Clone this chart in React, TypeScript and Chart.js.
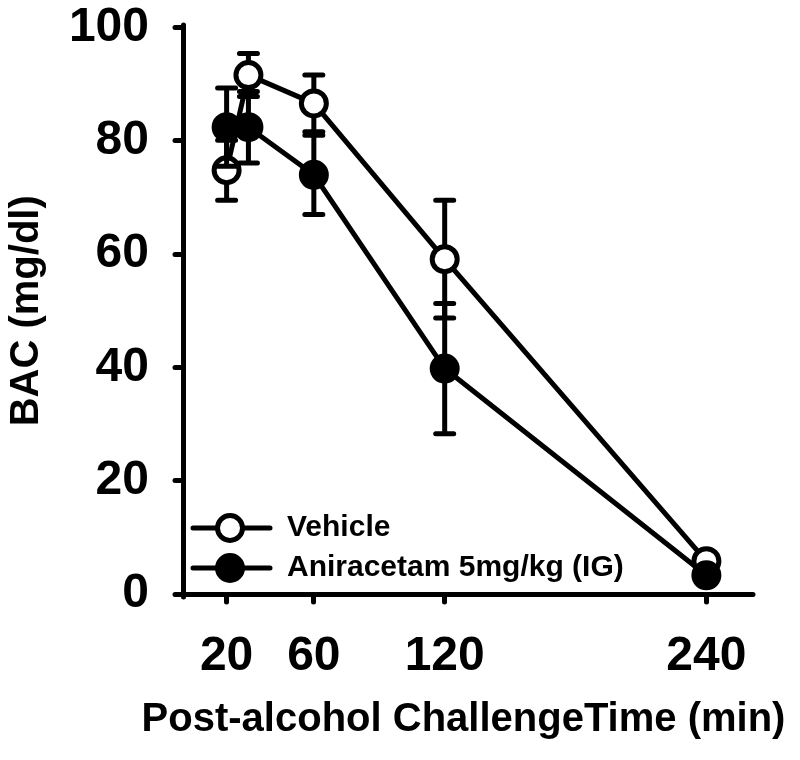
import React, { useEffect, useRef } from 'react';
import { Chart, registerables } from 'chart.js';

Chart.register(...registerables);

// ---- data ----
const times = [20, 30, 60, 120, 240];
const xTickValues = [20, 60, 120, 240];
const yTickValues = [0, 20, 40, 60, 80, 100];
const seriesLabels = ['Vehicle', 'Aniracetam 5mg/kg (IG)'];
const vehicleMean = [74.8, 91.6, 86.6, 59.1, 5.8];
const vehicleErr = [5.3, 3.8, 5.0, 10.4, 0.8];
const aniMean = [82.4, 82.4, 74.0, 39.8, 3.3];
const aniErr = [6.9, 6.3, 7.0, 11.5, 0.8];
const xTitle = 'Post-alcohol ChallengeTime (min)';
const yTitle = 'BAC (mg/dl)';

const FONT = "'Liberation Sans', Arial, Helvetica, sans-serif";

const errorBarPlugin = {
  id: 'errorBars',
  beforeDatasetDraw(chart: any, args: any) {
    const ds = chart.data.datasets[args.index];
    const errs: number[] | undefined = ds.errors;
    if (!errs) return;
    const { ctx } = chart;
    const x = chart.scales.x;
    const y = chart.scales.y;
    ctx.save();
    ctx.strokeStyle = '#000';
    ctx.lineWidth = 5;
    ctx.lineCap = 'round';
    ds.data.forEach((pt: any, i: number) => {
      const e = errs[i];
      const px = x.getPixelForValue(pt.x);
      const top = y.getPixelForValue(pt.y + e);
      const bot = y.getPixelForValue(pt.y - e);
      ctx.beginPath();
      ctx.moveTo(px, top);
      ctx.lineTo(px, bot);
      ctx.moveTo(px - 9, top);
      ctx.lineTo(px + 9, top);
      ctx.moveTo(px - 9, bot);
      ctx.lineTo(px + 9, bot);
      ctx.stroke();
    });
    ctx.restore();
  },
};

const roundCapPlugin = {
  id: 'roundCaps',
  beforeDraw(chart: any) {
    chart.ctx.lineCap = 'round';
  },
};

// x-axis title drawn without the width squeeze Chart.js applies to axis titles
const xTitlePlugin = {
  id: 'xTitle',
  afterDraw(chart: any) {
    const { ctx, chartArea } = chart;
    ctx.save();
    ctx.fillStyle = '#000';
    ctx.font = `bold 40px ${FONT}`;
    ctx.textAlign = 'center';
    ctx.textBaseline = 'middle';
    ctx.fillText(xTitle, (chartArea.left + chartArea.right) / 2 - 3, chartArea.bottom + 126);
    ctx.restore();
  },
};

const insideLegendPlugin = {
  id: 'insideLegend',
  afterDatasetsDraw(chart: any) {
    const { ctx, chartArea } = chart;
    ctx.save();
    chart.data.datasets.forEach((ds: any, i: number) => {
      const cy = chartArea.bottom - 66 + i * 40;
      const x0 = chartArea.left + 10;
      const x1 = chartArea.left + 87;
      const mx = chartArea.left + 47;
      ctx.lineCap = 'round';
      ctx.strokeStyle = ds.borderColor;
      ctx.lineWidth = 5;
      ctx.beginPath();
      ctx.moveTo(x0, cy);
      ctx.lineTo(x1, cy);
      ctx.stroke();
      ctx.beginPath();
      ctx.arc(mx, cy, ds.pointRadius, 0, Math.PI * 2);
      ctx.fillStyle = ds.pointBackgroundColor;
      ctx.fill();
      ctx.lineWidth = ds.pointBorderWidth;
      ctx.strokeStyle = ds.pointBorderColor;
      ctx.stroke();
      ctx.fillStyle = '#000';
      ctx.font = `bold 30px ${FONT}`;
      ctx.textBaseline = 'middle';
      ctx.textAlign = 'left';
      ctx.fillText(ds.label, chartArea.left + 104, cy);
    });
    ctx.restore();
  },
};

export default function App() {
  const canvasRef = useRef<HTMLCanvasElement | null>(null);

  useEffect(() => {
    const canvas = canvasRef.current;
    if (!canvas) return;
    const tickFont = { family: FONT, size: 48, weight: 'bold' as const, lineHeight: 1.2 };
    const titleFont = { family: FONT, size: 40, weight: 'bold' as const, lineHeight: 1.2 };
    const chart = new Chart(canvas, {
      type: 'line',
      data: {
        datasets: [
          {
            label: seriesLabels[0],
            data: times.map((t, i) => ({ x: t, y: vehicleMean[i] })),
            errors: vehicleErr,
            borderColor: '#000',
            borderWidth: 5,
            pointRadius: 12.5,
            pointHoverRadius: 12.5,
            pointBorderWidth: 5,
            pointBackgroundColor: '#fff',
            pointBorderColor: '#000',
            tension: 0,
            clip: false,
            order: 2,
          } as any,
          {
            label: seriesLabels[1],
            data: times.map((t, i) => ({ x: t, y: aniMean[i] })),
            errors: aniErr,
            borderColor: '#000',
            borderWidth: 5,
            pointRadius: 12.5,
            pointHoverRadius: 12.5,
            pointBorderWidth: 5,
            pointBackgroundColor: '#000',
            pointBorderColor: '#000',
            tension: 0,
            clip: false,
            order: 1,
          } as any,
        ],
      },
      options: {
        animation: false,
        responsive: false,
        maintainAspectRatio: false,
        layout: { padding: { top: 27.5, right: 50, left: 0, bottom: 0 } },
        plugins: {
          legend: { display: false },
          tooltip: { enabled: false },
        },
        scales: {
          x: {
            type: 'linear',
            min: 0,
            max: 260,
            afterBuildTicks: (s: any) => {
              s.ticks = xTickValues.map((v) => ({ value: v }));
            },
            afterFit: (s: any) => {
              s.height = 166;
              s.paddingLeft = 0;
              s.paddingRight = 0;
            },
            grid: {
              drawOnChartArea: false,
              drawTicks: true,
              tickLength: 8,
              lineWidth: 5,
              color: '#000',
            },
            border: { display: true, width: 5, color: '#000' },
            ticks: {
              color: '#000',
              font: tickFont,
              padding: 26,
              maxRotation: 0,
              autoSkip: false,
            },
            title: { display: false, text: xTitle },
          },
          y: {
            type: 'linear',
            min: 0,
            max: 100,
            afterBuildTicks: (s: any) => {
              s.ticks = yTickValues.map((v) => ({ value: v }));
            },
            afterFit: (s: any) => {
              s.width = 183;
              s.paddingTop = 0;
              s.paddingBottom = 0;
            },
            grid: {
              drawOnChartArea: false,
              drawTicks: true,
              tickLength: 8,
              lineWidth: 5,
              color: '#000',
            },
            border: { display: true, width: 5, color: '#000' },
            ticks: {
              color: '#000',
              font: tickFont,
              padding: 26,
            },
            title: {
              display: true,
              text: yTitle,
              color: '#000',
              font: titleFont,
              padding: { top: 3, bottom: 0 },
            },
          },
        },
      } as any,
      plugins: [roundCapPlugin, errorBarPlugin, insideLegendPlugin, xTitlePlugin],
    });
    return () => chart.destroy();
  }, []);

  return (
    <div style={{ position: 'absolute', left: 0, top: 0, width: 800, height: 760, background: '#fff' }}>
      <canvas ref={canvasRef} width={800} height={760} style={{ display: 'block' }} />
    </div>
  );
}
